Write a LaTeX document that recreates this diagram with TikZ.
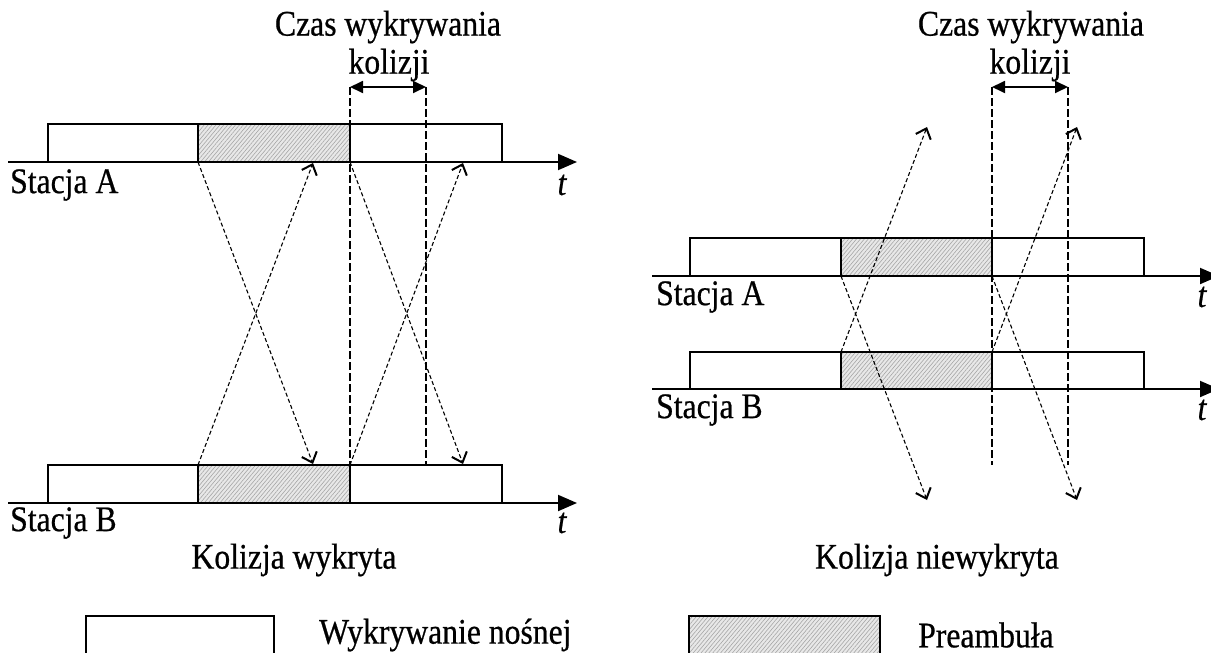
\documentclass[tikz,border=0pt]{standalone}
\usepackage{fontspec}
\setmainfont{Liberation Serif}[FakeStretch=0.88,FakeBold=0.6]
\usetikzlibrary{arrows.meta,patterns.meta}
\begin{document}
\begin{tikzpicture}[x=1pt,y=-1pt,
  lbl/.style={font=\fontsize{36}{38}\selectfont, inner sep=0pt},
  bar/.style={line width=2.6pt},
  pre/.style={preaction={fill=gray!18}, pattern={Lines[angle=50,distance=3pt,line width=0.6pt]}, pattern color=gray!70},
  axis/.style={line width=1.9pt, -{Triangle[length=19pt,width=16pt]}},
  sig/.style={line width=1.1pt, dash pattern=on 4pt off 2.5pt, -{Straight Barb[length=9pt,width=16pt,line width=2pt]}},
  vdash/.style={line width=1.3pt, dash pattern=on 8pt off 3pt},
  span/.style={line width=1.8pt, {Triangle[length=13pt,width=12pt]}-{Triangle[length=13pt,width=12pt]}}
]
\useasboundingbox (0,0) rectangle (1211,653);

% ===== Left diagram =====
\coordinate (LAa) at (8,162);   \coordinate (LAe) at (577,162);
\coordinate (LBa) at (8,503);   \coordinate (LBe) at (577,503);
\fill[pre] (198,124) rectangle (350,162);
\fill[pre] (198,465) rectangle (350,503);
\draw[bar] (48,124) rectangle (502,162);
\draw[bar] (198,124) -- (198,162) (350,124) -- (350,162);
\draw[bar] (48,465) rectangle (502,503);
\draw[bar] (198,465) -- (198,503) (350,465) -- (350,503);
\draw[axis] (LAa) -- (LAe);
\draw[axis] (LBa) -- (LBe);

\coordinate (LA1) at (198,162); \coordinate (LB1t) at (313,464);
\coordinate (LB1) at (198,465); \coordinate (LA1t) at (313,163);
\coordinate (LA2) at (350,162); \coordinate (LB2t) at (463,464);
\coordinate (LB2) at (350,465); \coordinate (LA2t) at (463,163);
\draw[sig] (LA1) -- (LB1t);
\draw[sig] (LB1) -- (LA1t);
\draw[sig] (LA2) -- (LB2t);
\draw[sig] (LB2) -- (LA2t);

\coordinate (LV1t) at (350,87); \coordinate (LV1b) at (350,465);
\coordinate (LV2t) at (426,87); \coordinate (LV2b) at (426,465);
\draw[vdash] (LV1t) -- (LV1b);
\draw[vdash] (LV2t) -- (LV2b);
\draw[span] (LV1t) -- (LV2t);

\node[lbl] (lczas) at (388,27) {Czas wykrywania};
\node[lbl] (lkol) at (389,65) {kolizji};
\node[lbl, anchor=west] (lsa) at (10,185) {Stacja A};
\node[lbl] (lta) at (562,185) {\itshape t};
\node[lbl, anchor=west] (lsb) at (10,523) {Stacja B};
\node[lbl] (ltb) at (562,523) {\itshape t};
\node[lbl] (lcap) at (294,560) {Kolizja wykryta};

% ===== Right diagram =====
\coordinate (RAa) at (652,276); \coordinate (RAe) at (1219,276);
\coordinate (RBa) at (652,389); \coordinate (RBe) at (1219,389);
\fill[pre] (841,238) rectangle (992,276);
\fill[pre] (841,352) rectangle (992,389);
\draw[bar] (690,238) rectangle (1144,276);
\draw[bar] (841,238) -- (841,276) (992,238) -- (992,276);
\draw[bar] (690,352) rectangle (1144,389);
\draw[bar] (841,352) -- (841,389) (992,352) -- (992,389);
\draw[axis] (RAa) -- (RAe);
\draw[axis] (RBa) -- (RBe);

\coordinate (RA1) at (841,276); \coordinate (RA1t) at (927,500);
\coordinate (RB1) at (841,352); \coordinate (RB1t) at (927,127);
\coordinate (RA2) at (992,276); \coordinate (RA2t) at (1077,500);
\coordinate (RB2) at (992,352); \coordinate (RB2t) at (1077,127);
\draw[sig] (RA1) -- (RA1t);
\draw[sig] (RB1) -- (RB1t);
\draw[sig] (RA2) -- (RA2t);
\draw[sig] (RB2) -- (RB2t);

\coordinate (RV1t) at (992,87); \coordinate (RV1b) at (992,465);
\coordinate (RV2t) at (1068,87); \coordinate (RV2b) at (1068,465);
\draw[vdash] (RV1t) -- (RV1b);
\draw[vdash] (RV2t) -- (RV2b);
\draw[span] (RV1t) -- (RV2t);

\node[lbl] (rczas) at (1031,27) {Czas wykrywania};
\node[lbl] (rkol) at (1030,65) {kolizji};
\node[lbl, anchor=west] (rsa) at (656,297) {Stacja A};
\node[lbl] (rta) at (1202,297) {\itshape t};
\node[lbl, anchor=west] (rsb) at (656,410) {Stacja B};
\node[lbl] (rtb) at (1202,410) {\itshape t};
\node[lbl] (rcap) at (937,560) {Kolizja niewykryta};

% ===== Legend =====
\draw[bar] (86,660) -- (86,616) -- (274,616) -- (274,660);
\node[lbl, anchor=west] (leg1) at (319,635) {Wykrywanie nośnej};
\fill[pre] (689,616) rectangle (880,660);
\draw[bar] (689,660) -- (689,616) -- (880,616) -- (880,660);
\node[lbl, anchor=west] (leg2) at (918,635) {Preambuła};
\end{tikzpicture}
\end{document}
